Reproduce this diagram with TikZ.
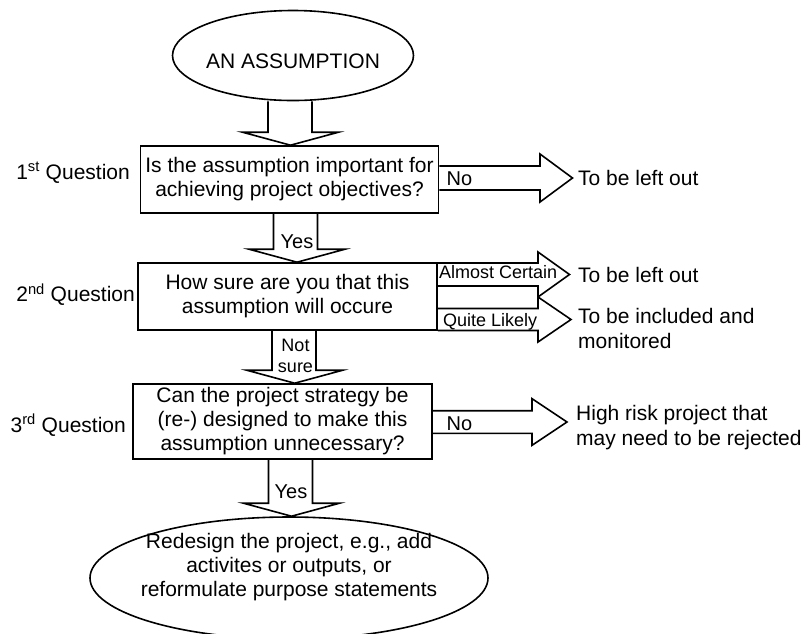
\documentclass[tikz,border=0pt]{standalone}
\usepackage{fontspec}
\setmainfont{Liberation Sans}
\usetikzlibrary{shapes.geometric,calc}
\newcommand\myfs[2]{\fontsize{#1}{#2}\selectfont}
% vertical hollow block arrow: from node, to node, shaft x centre, head x centre
\newcommand\vblk[4]{%
  \draw[blk] let \p1=(#1.south), \p2=(#2.north) in
    ({#3pt-22pt},\y1) -- ({#3pt-22pt},\y2+13pt) -- ({#4pt-48pt},\y2+13pt)
    -- ({#4pt},\y2) -- ({#4pt+48pt},\y2+13pt) -- ({#3pt+22pt},\y2+13pt)
    -- ({#3pt+22pt},\y1);}
% horizontal hollow block arrow: from node, y centre, head base x, tip x, shaft half, head half
\newcommand\hblk[6]{%
  \draw[blk] (#1.east |- 0,{#2-#5}) -- (#3,{#2-#5}) -- (#3,{#2-#6}) -- (#4,#2)
    -- (#3,{#2+#6}) -- (#3,{#2+#5}) -- (#1.east |- 0,{#2+#5});}
\begin{document}
\begin{tikzpicture}[x=1pt,y=-1pt,
  box/.style={draw, rectangle, inner sep=0pt, line width=1.6pt},
  oval/.style={draw, ellipse, inner sep=0pt, line width=1.6pt},
  txt/.style={font=\myfs{21}{24}, inner sep=0pt, align=center},
  lbl/.style={font=\myfs{20}{21}, inner sep=0pt},
  small/.style={font=\myfs{18}{21}, inner sep=0pt},
  blk/.style={draw, line width=1.6pt, line join=miter}]
\useasboundingbox (0,0) rectangle (805,633);
\clip (0,0) rectangle (805,633);

% shapes
\node[oval, minimum width=241, minimum height=90] (e1) at (293,55.5) {};
\node[txt] (e1t) at (293,61) {AN ASSUMPTION};

\node[box, minimum width=298, minimum height=67] (q1) at (289.5,179.5) {};
\node[txt] (q1t) at (q1.center) {Is the assumption important for\\achieving project objectives?};

\node[box, minimum width=299, minimum height=67] (q2) at (287.5,296.5) {};
\node[txt] (q2t) at (q2.center) {How sure are you that this\\assumption will occure};

\node[box, minimum width=299, minimum height=75] (q3) at (282.5,421.5) {};
\node[txt] (q3t) at (q3.center) {Can the project strategy be\\(re-) designed to make this\\assumption unnecessary?};

\node[oval, minimum width=398, minimum height=122] (e2) at (289,578) {};
\node[txt] (e2t) at (289,567) {Redesign the project, e.g., add\\activites or outputs, or\\reformulate purpose statements};

% question labels
\node[txt, anchor=base east] (l1) at (130,179.3) {1\textsuperscript{st} Question};
\node[txt, anchor=base east] (l2) at (135,301.7) {2\textsuperscript{nd} Question};
\node[txt, anchor=base east] (l3) at (126,432) {3\textsuperscript{rd} Question};

% outcome texts
\node[txt, anchor=base west] (o1) at (578,185) {To be left out};
\node[txt, anchor=base west] (o2) at (578,282) {To be left out};
\node[txt, anchor=base west] (o3a) at (578,323) {To be included and};
\node[txt, anchor=base west] (o3b) at (578,348) {monitored};
\node[txt, anchor=base west] (o4a) at (576,420.7) {High risk project that};
\node[txt, anchor=base west] (o4b) at (576,445) {may need to be rejected};

% block arrows
\vblk{e1}{q1}{290}{290.5}
\vblk{q1}{q2}{295.5}{297}
\vblk{q2}{q3}{294}{294.7}
\vblk{q3}{e2}{290.5}{291.5}

\hblk{q1}{178}{540}{572.5}{12}{24}
\hblk{q2}{274.5}{538}{569.5}{11.5}{22.5}
\hblk{q2}{319.5}{538}{571}{11}{22.5}
\hblk{q3}{422}{532}{567}{11.3}{23.3}

% arrow labels
\node[lbl, anchor=base west] (n1) at (446.5,185) {No};
\node[small, anchor=base west] (ac) at (439,278.5) {Almost Certain};
\node[small, anchor=base west] (ql) at (443,326) {Quite Likely};
\node[lbl, anchor=base west] (n3) at (446.5,430) {No};
\node[lbl, anchor=base] (y1) at (297,248) {Yes};
\node[small, anchor=base] (ns1) at (295.5,351.7) {Not};
\node[small, anchor=base] (ns2) at (295.5,372.7) {sure};
\node[lbl, anchor=base] (y3) at (291,498) {Yes};
\end{tikzpicture}
\end{document}
